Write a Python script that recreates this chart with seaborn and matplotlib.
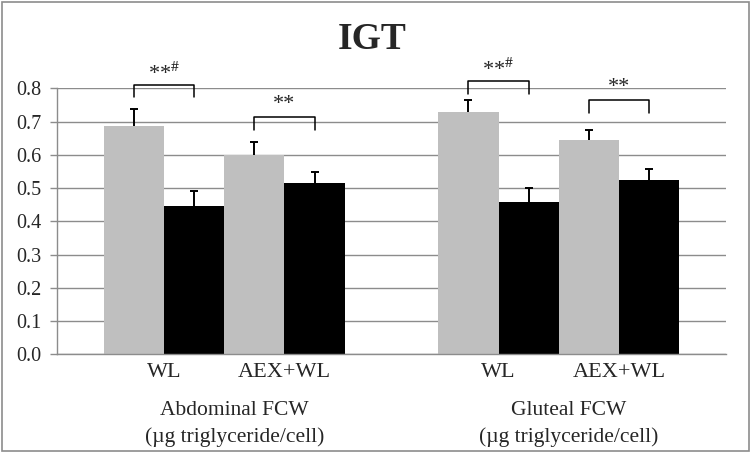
import pandas as pd
import matplotlib
matplotlib.use("Agg")
import matplotlib.pyplot as plt
import seaborn as sns
from matplotlib.patches import Rectangle

# Data
categories = ["Abdominal FCW", "Gluteal FCW"]
unit_label = "(µg triglyceride/cell)"
series = ["WL pre", "WL post", "AEX+WL pre", "AEX+WL post"]
abdominal_values = [0.688, 0.445, 0.599, 0.515]
gluteal_values = [0.730, 0.459, 0.646, 0.525]
abdominal_err = [0.050, 0.046, 0.041, 0.032]
gluteal_err = [0.035, 0.041, 0.029, 0.031]
pair_labels = ["WL", "AEX+WL"]
sig_labels = ["**$^{\\#}$", "**"]
bracket_levels = [[0.811, 0.713], [0.821, 0.764]]
y_ticks = [0.0, 0.1, 0.2, 0.3, 0.4, 0.5, 0.6, 0.7, 0.8]

colors = ["#BFBFBF", "#000000", "#BFBFBF", "#000000"]

rows = []
for cat, vals, errs in zip(categories, [abdominal_values, gluteal_values], [abdominal_err, gluteal_err]):
    for s, v, e in zip(series, vals, errs):
        rows.append({"site": cat, "group": s, "value": v, "err": e})
df = pd.DataFrame(rows)

sns.set_style("white")
plt.rcParams["font.family"] = ["Liberation Serif", "DejaVu Serif"]
plt.rcParams["mathtext.fontset"] = "stix"

fig = plt.figure(figsize=(7.52, 4.53), dpi=100)
ax = fig.add_axes([0.0758, 0.2179, 0.8896, 0.587])

sns.barplot(data=df, x="site", y="value", hue="group", hue_order=series,
            palette=colors, width=0.72, gap=0, errorbar=None, saturation=1,
            linewidth=0, legend=False, ax=ax, zorder=2)

# bar centres per category / series from the drawn patches
centers = {}
for h, cont in enumerate(ax.containers):
    for c, bar in enumerate(cont):
        centers[(c, h)] = bar.get_x() + bar.get_width() / 2

# upward-only error bars with a small cap
cap = 0.012
for c, cat in enumerate(categories):
    sub = df[df["site"] == cat].reset_index(drop=True)
    for h in range(len(series)):
        x = centers[(c, h)]
        y0 = sub.loc[h, "value"]
        y1 = y0 + sub.loc[h, "err"]
        ax.vlines(x, y0, y1, color="black", lw=1.4, zorder=3)
        ax.hlines(y1, x - cap, x + cap, color="black", lw=1.4, zorder=3)

# significance brackets
leg = 0.038
for c in range(len(categories)):
    for p in range(2):
        x1 = centers[(c, 2 * p)]
        x2 = centers[(c, 2 * p + 1)]
        yb = bracket_levels[c][p]
        ax.plot([x1, x1, x2, x2], [yb - leg, yb, yb, yb - leg], color="black",
                lw=1.1, clip_on=False, zorder=4)
        ax.text((x1 + x2) / 2, yb + 0.01, sig_labels[p], ha="center", va="bottom",
                fontsize=16, clip_on=False)

# axis styling
ax.set_ylim(0, 0.8)
ax.set_xlim(-0.5, 1.5)
ax.set_yticks(y_ticks)
ax.set_yticklabels([f"{t:.1f}" for t in y_ticks], fontsize=14.5)
ax.yaxis.grid(True, color="#8C8C8C", linewidth=1.0)
ax.set_axisbelow(True)
ax.tick_params(axis="y", length=5, width=1, color="#8C8C8C", pad=6, left=True)
ax.set_xticks([])
ax.set_xlabel("")
ax.set_ylabel("")
for side in ["top", "right"]:
    ax.spines[side].set_visible(False)
for side in ["left", "bottom"]:
    ax.spines[side].set_color("#8C8C8C")
    ax.spines[side].set_linewidth(1.0)

# category labels
trans = ax.get_xaxis_transform()
for c, cat in enumerate(categories):
    for p, lab in enumerate(pair_labels):
        xm = (centers[(c, 2 * p)] + centers[(c, 2 * p + 1)]) / 2
        ax.text(xm, -0.07, lab, transform=trans, ha="center", va="center", fontsize=16)
    xc = sum(centers[(c, h)] for h in range(len(series))) / len(series)
    ax.text(xc + 0.03, -0.21, cat, transform=trans, ha="center", va="center", fontsize=15.5)
    ax.text(xc + 0.03, -0.31, unit_label, transform=trans, ha="center", va="center", fontsize=15.5)

fig.text(0.495, 0.912, "IGT", ha="center", va="center", fontsize=27, fontweight="bold")

# chart border
fig.patches.append(Rectangle((0.002, 0.004), 0.994, 0.992, transform=fig.transFigure,
                             fill=False, edgecolor="#8C8C8C", linewidth=1.2))

fig.savefig("out.png", dpi=100)
